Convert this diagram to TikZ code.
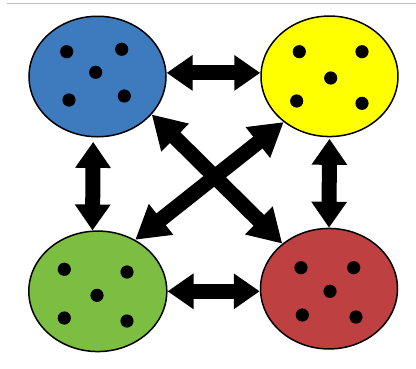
\documentclass[tikz,border=0pt]{standalone}
\usetikzlibrary{shapes.geometric,arrows.meta}
\definecolor{cblue}{RGB}{62,123,190}
\definecolor{cyellow}{RGB}{255,255,0}
\definecolor{cgreen}{RGB}{124,190,66}
\definecolor{cred}{RGB}{190,64,64}
\begin{document}
\begin{tikzpicture}[x=1pt,y=-1pt,
  blob/.style={ellipse,draw=black,line width=1.5pt,minimum width=137pt,minimum height=120.5pt,inner sep=0pt},
  dot/.style={fill=black},
  fatarrow/.style={line width=15pt,{Triangle[width=34pt,length=26pt]}-{Triangle[width=34pt,length=26pt]}},
  diagarrow/.style={line width=15pt,{Triangle[width=37pt,length=33pt]}-{Triangle[width=37pt,length=33pt]}}]
\useasboundingbox (0,0) rectangle (416,368);
\draw[color=black!25,line width=1pt] (7,3.3) -- (416,3.3);

\node[blob,fill=cblue] (blue) at (97.5,76.5) {};
\node[blob,fill=cyellow] (yellow) at (329.5,76.3) {};
\node[blob,fill=cgreen,minimum width=138pt] (green) at (97.8,291.3) {};
\node[blob,fill=cred] (red) at (329,288.7) {};

\foreach \x/\y in {66.7/51.7,121.7/49.3,95.7/72.3,69/100,124.3/96,
                   299.3/51.7,362/51.7,330.7/78,296.7/101,362/103.3,
                   64.3/269.3,127/272,97/295.3,64.3/318,127/321,
                   301/267.7,353.7/267.7,330/291.3,302.3/315,356/317}
  \fill[dot] (\x,\y) circle (6.6pt);

\draw[fatarrow] (blue.3.5) -- (blue.3.5 -| yellow.west);
\draw[fatarrow] (green.east) -- (green.east -| red.west);
\draw[fatarrow,shorten <=4.5pt] (blue.-94.5) -- (green.95);
\draw[fatarrow,shorten <=1.5pt] (yellow.-90) -- (red.90);
\draw[diagarrow] (blue.-35) -- (red.136);
\draw[diagarrow] (yellow.225) -- (green.54.6);
\end{tikzpicture}
\end{document}
